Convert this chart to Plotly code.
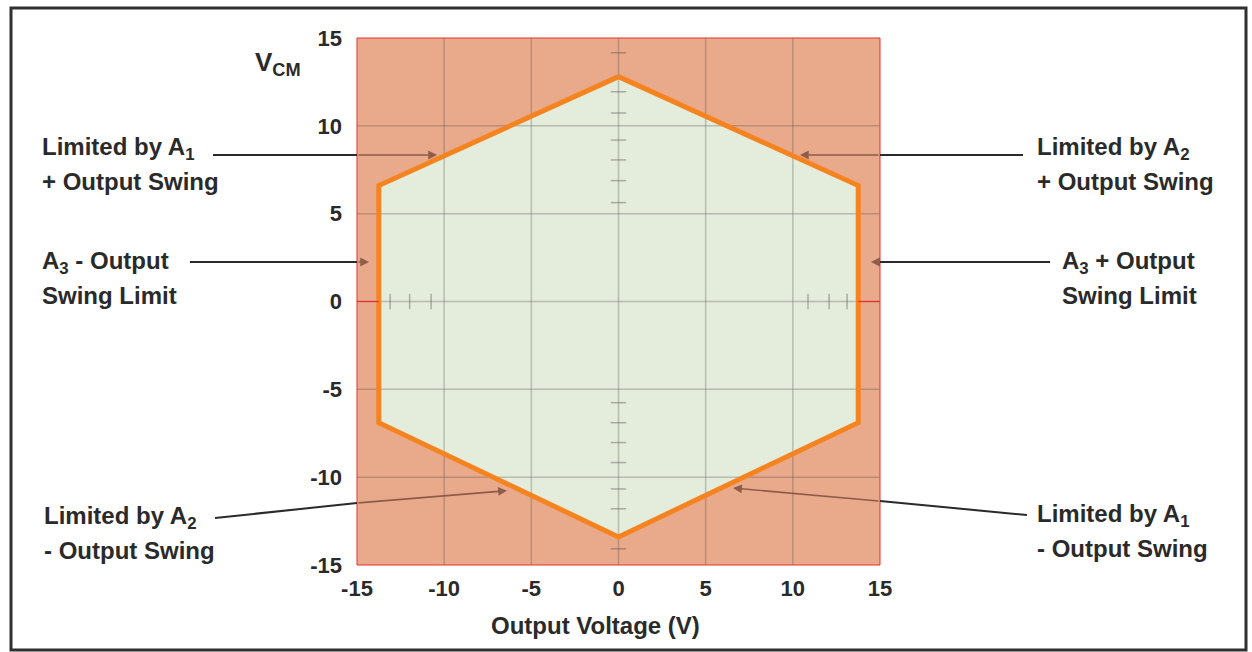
import plotly.graph_objects as go

# ---------------- data ----------------
x_range = [-15, 15]
y_range = [-15, 15]
tick_vals = [-15, -10, -5, 0, 5, 10, 15]
tick_text = ["-15", "-10", "-5", "0", "5", "10", "15"]
grid_vals = [-10, -5, 0, 5, 10]

# hexagonal operating region (Output Voltage, V_CM)
hex_x = [0, 13.75, 13.75, 0, -13.75, -13.75]
hex_y = [12.8, 6.6, -6.9, -13.4, -6.9, 6.6]

# small tick marks along the centre axes
minor_tick_y = [14.16, 11.94, 10.73, 9.19, 8.06, 6.88, 5.63,
                -5.76, -6.9, -8.03, -9.17, -10.67, -11.8, -14.08]
minor_tick_x = [-13.1, -11.98, -10.75, 10.87, 12.08, 13.11]

# annotation labels (two lines each)
label_line1 = ["Limited by A<sub>1</sub>", "Limited by A<sub>2</sub>",
               "A<sub>3</sub> - Output", "A<sub>3</sub> + Output",
               "Limited by A<sub>2</sub>", "Limited by A<sub>1</sub>"]
label_line2 = ["+ Output Swing", "+ Output Swing",
               "Swing Limit", "Swing Limit",
               "- Output Swing", "- Output Swing"]

# arrow targets (data coords) and where they cross the plot border
arrow_head_x = [-10.41, 10.41, -14.31, 14.48, -6.40, 6.57]
arrow_head_y = [8.34, 8.34, 2.25, 2.25, -10.77, -10.62]
arrow_border_x = [-15, 15, -15, 15, -15, 15]
arrow_border_y = [8.34, 8.34, 2.25, 2.25, -11.47, -11.36]

x_title = "Output Voltage (V)"
y_title = "V<sub>CM</sub>"

# ---------------- layout geometry ----------------
W, H = 1252, 652
ML, MR, MT, MB = 357, 372, 38, 87
PW, PH = W - ML - MR, H - MT - MB


def px(x):
    return (x - ML) / PW


def py(y):
    return (H - MB - y) / PH


def dx2p(v):
    return (v - x_range[0]) / (x_range[1] - x_range[0])


def dy2p(v):
    return (v - y_range[0]) / (y_range[1] - y_range[0])


label_pos = [(40, 148), (1035, 148), (40, 262), (1060, 262), (42, 517), (1035, 515)]
line_gap = 33
arrow_tail_px = [(213, 155), (1023, 155), (190, 262), (1050, 262), (215, 518), (1027, 515)]

FONT = "Liberation Sans"
TXT = "#2a2a2a"
ORANGE_BG = "#E9AA8C"
GREEN = "#E4ECDB"
HEX_LINE = "#F58420"
RED = "#E8312E"
GRID = "rgba(70,70,70,0.28)"

fig = go.Figure()

# hexagon fill
fig.add_trace(go.Scatter(
    x=hex_x + [hex_x[0]], y=hex_y + [hex_y[0]], mode="lines",
    fill="toself", fillcolor=GREEN, line=dict(width=0, color=GREEN),
    hoverinfo="skip", showlegend=False))

# grid lines
gx, gy = [], []
for v in grid_vals:
    gx += [v, v, None]
    gy += [y_range[0], y_range[1], None]
    gx += [x_range[0], x_range[1], None]
    gy += [v, v, None]
fig.add_trace(go.Scatter(x=gx, y=gy, mode="lines",
                         line=dict(color=GRID, width=1.5),
                         hoverinfo="skip", showlegend=False))

# minor tick marks
fig.add_trace(go.Scatter(
    x=[0] * len(minor_tick_y), y=minor_tick_y, mode="markers",
    marker=dict(symbol="line-ew", size=11, line=dict(width=1.5, color="rgba(70,70,70,0.38)")),
    hoverinfo="skip", showlegend=False))
fig.add_trace(go.Scatter(
    x=minor_tick_x, y=[0] * len(minor_tick_x), mode="markers",
    marker=dict(symbol="line-ns", size=11, line=dict(width=1.5, color="rgba(70,70,70,0.38)")),
    hoverinfo="skip", showlegend=False))

# hexagon outline
fig.add_trace(go.Scatter(
    x=hex_x + [hex_x[0]], y=hex_y + [hex_y[0]], mode="lines",
    line=dict(color=HEX_LINE, width=5), hoverinfo="skip", showlegend=False))

shapes = []
# red plot border
shapes.append(dict(type="rect", xref="paper", yref="paper", x0=0, x1=1, y0=0, y1=1,
                   line=dict(color=RED, width=1), layer="above"))
# red segments on the zero line outside the hexagon
shapes.append(dict(type="line", xref="x", yref="y", x0=x_range[0], x1=hex_x[5], y0=0, y1=0,
                   line=dict(color=RED, width=1.2), layer="above"))
shapes.append(dict(type="line", xref="x", yref="y", x0=hex_x[1], x1=x_range[1], y0=0, y1=0,
                   line=dict(color=RED, width=1.2), layer="above"))
# outer frame
shapes.append(dict(type="rect", xref="paper", yref="paper",
                   x0=px(11), x1=px(1246), y0=py(650), y1=py(8),
                   line=dict(color="#303030", width=3), layer="above"))

annotations = []
# labels
for i in range(len(label_line1)):
    lx, ly = label_pos[i]
    for j, t in enumerate([label_line1[i], label_line2[i]]):
        annotations.append(dict(
            text=t, xref="paper", yref="paper", x=px(lx), y=py(ly + j * line_gap),
            xanchor="left", yanchor="middle", showarrow=False,
            font=dict(family=FONT, size=24, color=TXT, weight="bold")))

# arrows: outer segment (dark) + inner segment with head (muted by the fill)
for i in range(len(arrow_head_x)):
    tx, ty = arrow_tail_px[i]
    shapes.append(dict(type="line", xref="paper", yref="paper",
                       x0=px(tx), y0=py(ty),
                       x1=dx2p(arrow_border_x[i]), y1=dy2p(arrow_border_y[i]),
                       line=dict(color="#2a2a2a", width=2), layer="above"))
    annotations.append(dict(
        x=arrow_head_x[i], y=arrow_head_y[i], xref="x", yref="y",
        ax=arrow_border_x[i], ay=arrow_border_y[i], axref="x", ayref="y",
        text="", showarrow=True, arrowhead=2, arrowsize=1.1, arrowwidth=1.6,
        arrowcolor="rgba(105,60,45,0.7)"))

# axis titles
annotations.append(dict(text=x_title, xref="paper", yref="paper", x=px(595), y=py(625),
                        xanchor="center", yanchor="middle", showarrow=False,
                        font=dict(family=FONT, size=24, color=TXT, weight="bold")))
annotations.append(dict(text=y_title, xref="paper", yref="paper", x=px(303), y=py(64),
                        xanchor="right", yanchor="middle", showarrow=False,
                        font=dict(family=FONT, size=26, color=TXT, weight="bold")))

fig.update_layout(
    width=W, height=H,
    margin=dict(l=ML, r=MR, t=MT, b=MB),
    paper_bgcolor="white", plot_bgcolor=ORANGE_BG,
    showlegend=False,
    shapes=shapes, annotations=annotations,
    font=dict(family=FONT, color=TXT),
    xaxis=dict(range=x_range, tickvals=tick_vals, ticktext=tick_text,
               showgrid=False, zeroline=False, showline=False, ticks="",
               tickfont=dict(family=FONT, size=22, color=TXT, weight="bold"),
               ticklabelstandoff=8, fixedrange=True),
    yaxis=dict(range=y_range, tickvals=tick_vals, ticktext=tick_text,
               showgrid=False, zeroline=False, showline=False, ticks="",
               tickfont=dict(family=FONT, size=22, color=TXT, weight="bold"),
               ticklabelstandoff=14, fixedrange=True),
)

fig.write_html("out.html", config={"displayModeBar": False},
               post_script="document.body.style.margin='0';document.body.style.overflow='hidden';")
